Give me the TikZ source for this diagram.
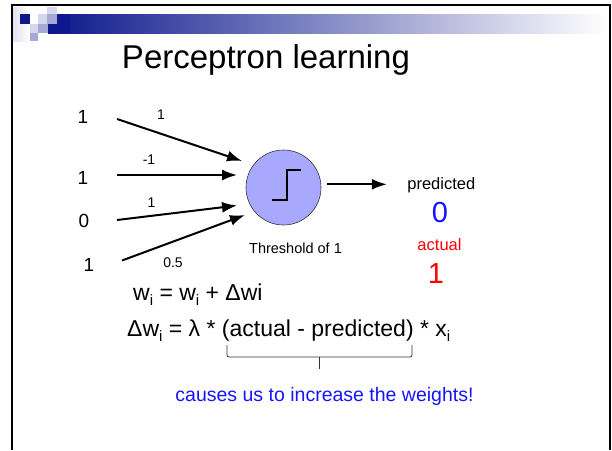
\documentclass[tikz,border=0pt]{standalone}
\usepackage{fontspec}
\setmainfont{Liberation Sans}
\usetikzlibrary{arrows.meta}

\definecolor{hdrnavy}{RGB}{12,24,140}
\definecolor{tilemid}{RGB}{168,168,214}
\definecolor{tilelt}{RGB}{214,214,236}
\definecolor{tilefaint}{RGB}{226,226,242}
\definecolor{neuronfill}{RGB}{168,168,255}
\definecolor{txtblue}{RGB}{20,20,255}
\definecolor{txtred}{RGB}{255,0,0}

\newcommand{\fsz}[1]{\fontsize{#1}{#1}\selectfont}
\newcommand{\idx}[1]{\raisebox{-0.22em}{\fsz{15}#1}}

\begin{document}
\begin{tikzpicture}[
    x=1pt, y=-1pt,
    >={Latex[length=15pt,width=11pt]},
    wire/.style={->, line width=2pt},
    inp/.style={font=\fsz{19}},
    wt/.style={font=\fsz{14}},
    neuron/.style={draw=black!80, circle, fill=neuronfill, minimum size=75pt, inner sep=0pt, line width=0.6pt},
    note/.style={font=\fsz{14.5}},
    outlbl/.style={font=\fsz{16.5}, anchor=base},
    outval/.style={font=\fsz{29}, anchor=base},
    eqn/.style={font=\fsz{23}, anchor=base west, inner sep=0pt}
  ]

  \useasboundingbox (0,0) rectangle (612,450);

    %------------------ Header -----------------%
    \shade[left color=tilefaint, right color=white] (13,7) rectangle (30,41);
    \shade[left color=hdrnavy, right color=white] (48,14) rectangle (608,33);
    \fill[hdrnavy] (48,14) rectangle (70,33);
    \fill[hdrnavy] (20,14) rectangle (30,24);
    \fill[tilelt]  (38,14) rectangle (47,24);
    \fill[tilelt]  (47,7)  rectangle (57,14);
    \fill[tilemid] (47,14) rectangle (57,24);
    \fill[tilelt]  (30,24) rectangle (38,33);
    \fill[tilemid] (38,24) rectangle (48,33);
    \fill[tilemid] (30,33) rectangle (38,41);

    % Frame
    \draw[line width=2pt] (12,450) -- (12,5);
    \draw[line width=1.6pt] (11,5) -- (610,5) -- (610,450);

    % Title
    \node[font=\fsz{33}, anchor=base] (title) at (266,68) {Perceptron learning};

    %------------------ Perceptron -----------------%
    % Inputs
    \node[inp] (in1) at (83,117)   {1};
    \node[inp] (in2) at (83,178)   {1};
    \node[inp] (in3) at (84,221)   {0};
    \node[inp] (in4) at (89,264.5) {1};

    % Unit
    \node[neuron] (unit) at (283.5,187.5) {};
    \draw[line width=1.5pt] (unit.center) ++(-11.5,12.5) -- ++(15,0) -- ++(0,-30) -- ++(14,0);
    \node[note, anchor=base] (thr) at (295.5,253) {Threshold of 1};

    % Arrow ends
    \coordinate (s1) at ([shift={(34,2)}]in1.center);
    \coordinate (s2) at ([shift={(34,-3)}]in2.center);
    \coordinate (s3) at ([shift={(33,-1)}]in3.center);
    \coordinate (s4) at ([shift={(33,-4)}]in4.center);
    \coordinate (t1) at (242,161);
    \coordinate (t2) at (237,175);
    \coordinate (t3) at (237,205.5);
    \coordinate (t4) at (245,215);

    % Weighted inputs
    \draw[wire] (s1) -- (t1);
    \draw[wire] (s2) -- (t2);
    \draw[wire] (s3) -- (t3);
    \draw[wire] (s4) -- (t4);

    % Weights
    \node[wt] (w1) at (161,114.5) {1};
    \node[wt] (w2) at (149,159.5) {-1};
    \node[wt] (w3) at (151.5,202.5) {1};
    \node[wt] (w4) at (173,263) {0.5};

    % Output
    \node[outlbl] (pred) at (441.3,189.5) {predicted};
    \node[outval, text=txtblue] (pval) at (440,222.7) {0};
    \node[outlbl, text=txtred] (act) at (439.5,250) {actual};
    \node[outval, text=txtred] (aval) at (436,283.3) {1};
    \draw[wire] ([xshift=6pt]unit.east |- 0,184.3) -- ([xshift=-17pt]pred.west |- 0,184.3);

    %------------------ Update rule -----------------%
    \node[eqn] (upd) at (133,300)
      {w\idx{i} = w\idx{i} + Δwi};
    \node[eqn] (delta) at (127,336)
      {Δw\idx{i} = λ * (actual - predicted) * x\idx{i}};

    % Brace under (actual - predicted)
    \draw[black!80, line width=0.8pt, rounded corners=2pt]
      (227,345) -- (227,357) -- (412,357) -- (412,345);
    \draw[black!80, line width=0.8pt] (319,357) -- (319,369);

    \node[font=\fsz{19.5}, text=txtblue, anchor=base] (cause) at (324.5,401.5)
      {causes us to increase the weights!};

  \end{tikzpicture}
\end{document}
